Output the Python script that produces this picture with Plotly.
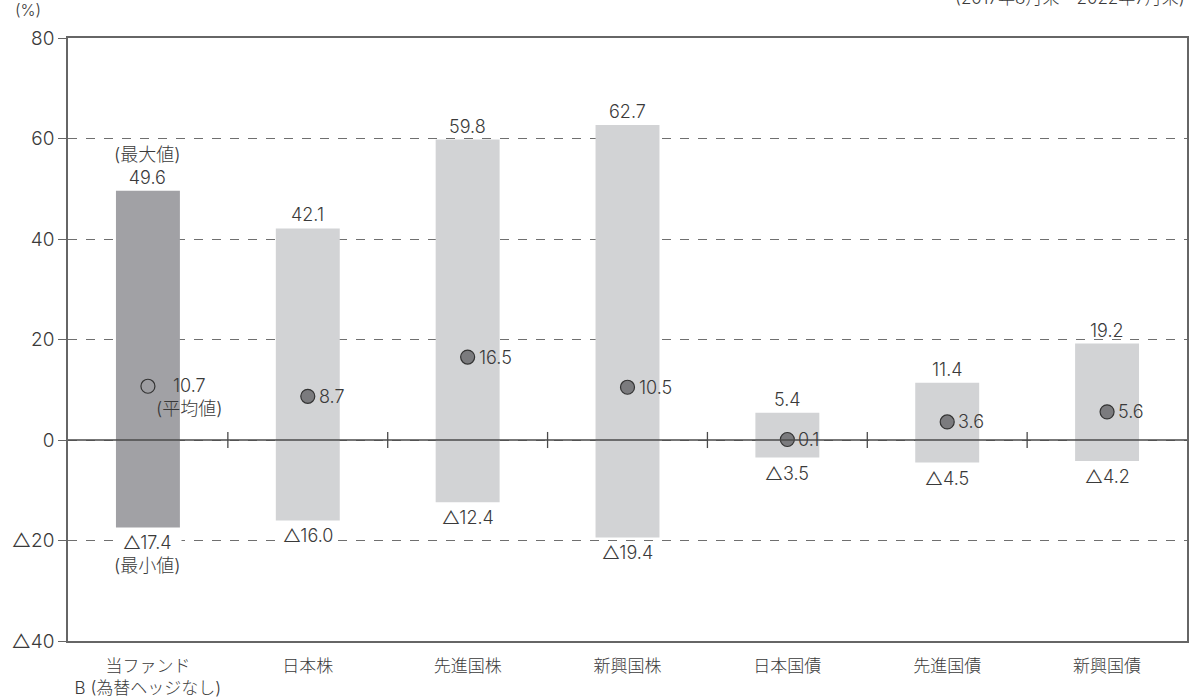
import plotly.graph_objects as go

categories = ["当ファンド<br>B (為替ヘッジなし)", "日本株", "先進国株", "新興国株", "日本国債", "先進国債", "新興国債"]
max_vals = [49.6, 42.1, 59.8, 62.7, 5.4, 11.4, 19.2]
min_vals = [-17.4, -16.0, -12.4, -19.4, -3.5, -4.5, -4.2]
avg_vals = [10.7, 8.7, 16.5, 10.5, 0.1, 3.6, 5.6]
y_tickvals = [-40, -20, 0, 20, 40, 60, 80]
y_ticktext = ["△40", "△20", "0", "20", "40", "60", "80"]

FONT = "Inter, Noto Sans CJK JP"
TXT = "#3a3a3a"
FS = 18
DARK_BAR = "#a1a1a5"
LIGHT_BAR = "#d2d3d5"
bar_colors = [DARK_BAR] + [LIGHT_BAR] * (len(categories) - 1)

def fmt(v):
    return ("△" if v < 0 else "") + f"{abs(v):.1f}"

def fnt(size=FS):
    return dict(size=size, color=TXT, family=FONT, weight=300)

fig = go.Figure()
fig.add_trace(go.Bar(
    x=categories,
    y=[mx - mn for mx, mn in zip(max_vals, min_vals)],
    base=min_vals,
    width=0.4,
    marker=dict(color=bar_colors, line=dict(width=0)),
    hoverinfo="skip",
    showlegend=False,
))
# fund's mean marker (same tone as its bar)
fig.add_trace(go.Scatter(
    x=categories[:1], y=avg_vals[:1], mode="markers",
    marker=dict(size=14, color="#9d9da1", line=dict(color="#333333", width=1.2)),
    showlegend=False,
))
# other assets' mean markers
fig.add_trace(go.Scatter(
    x=categories[1:], y=avg_vals[1:], mode="markers",
    marker=dict(size=14, color="#7b7b7e", line=dict(color="#333333", width=1.2)),
    showlegend=False,
))

annotations = []
for i, (c, mx, mn, av) in enumerate(zip(categories, max_vals, min_vals, avg_vals)):
    top_txt = fmt(mx) if i else "(最大値)<br>" + fmt(mx)
    bot_txt = fmt(mn) if i else fmt(mn) + "<br>(最小値)"
    annotations.append(dict(x=c, y=mx, xref="x", yref="y", text=top_txt, showarrow=False,
                            yanchor="bottom", yshift=1, font=fnt()))
    annotations.append(dict(x=c, y=mn, xref="x", yref="y", text=bot_txt, showarrow=False,
                            yanchor="top", yshift=-4, bgcolor="white", borderpad=0, font=fnt()))
    if i == 0:
        annotations.append(dict(x=c, y=av, xref="x", yref="y", text=fmt(av) + "<br>(平均値)",
                                showarrow=False, xanchor="left", xshift=6, yanchor="top", yshift=13,
                                align="center", font=fnt()))
    else:
        annotations.append(dict(x=c, y=av, xref="x", yref="y", text=fmt(av), showarrow=False,
                                xanchor="left", xshift=9, yanchor="middle", font=fnt()))

annotations.append(dict(x=-0.036, y=1.047, xref="paper", yref="paper", text="(%)", showarrow=False,
                        xanchor="center", yanchor="middle", font=fnt(16)))
annotations.append(dict(x=1.0, y=1.066, xref="paper", yref="paper",
                        text="(2017年8月末～2022年7月末)", showarrow=False,
                        xanchor="right", yanchor="middle", font=fnt(17)))

shapes = [dict(type="line", xref="paper", yref="y", x0=0, x1=1, y0=0, y1=0,
               line=dict(color="#4a4a4a", width=1.3), layer="above")]
for k in range(len(categories) - 1):
    shapes.append(dict(type="line", xref="x", yref="y", x0=k + 0.5, x1=k + 0.5, y0=-1.6, y1=1.6,
                       line=dict(color="#4a4a4a", width=1.3), layer="above"))

fig.update_layout(
    width=1189, height=698,
    margin=dict(l=68, r=2, t=38, b=57),
    paper_bgcolor="white", plot_bgcolor="white",
    font=fnt(),
    annotations=annotations,
    shapes=shapes,
    xaxis=dict(
        type="category", showgrid=False, ticks="", tickfont=fnt(17),
        showline=True, linecolor="#666666", linewidth=1.5, mirror=True,
        range=[-0.5, len(categories) - 0.5], automargin=False, ticklabelstandoff=9,
    ),
    yaxis=dict(
        range=[-40, 80], tickvals=y_tickvals, ticktext=y_ticktext,
        showgrid=True, gridcolor="#6f6f6f", griddash="dash", gridwidth=1,
        zeroline=False, showline=True, linecolor="#666666", linewidth=1.5, mirror=True,
        ticks="outside", ticklen=8, tickcolor="#666666", tickwidth=1.2,
        tickfont=fnt(19), automargin=False,
    ),
)

fig.write_html("out.html", config={"displayModeBar": False},
               post_script="document.body.style.margin='0px';")
